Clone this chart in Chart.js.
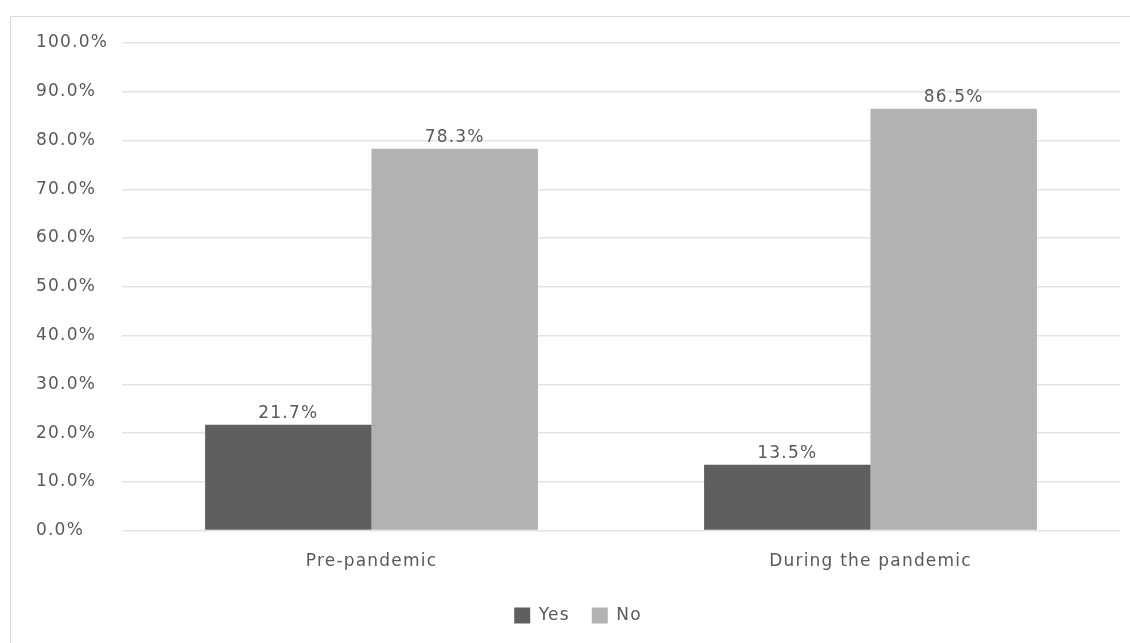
<!DOCTYPE html>
<html lang="en">
<head>
    <meta charset="UTF-8">
    <script src="https://cdn.jsdelivr.net/npm/chart.js@4.4.0/dist/chart.umd.min.js"></script>
    <title>Pre-pandemic vs during the pandemic</title>
    <style>
        body { margin: 0; background: #fff; overflow: hidden; }
        #wrap { position: relative; width: 1130px; height: 643px; overflow: hidden; }
        .line { position: absolute; background: #dcdcdc; }
        #top-line { left: 10px; top: 16px; width: 1120px; height: 1px; }
        #left-line { left: 10px; top: 16px; width: 1px; height: 627px; }
        #myChart { position: absolute; left: 0; top: 0; }
    </style>
</head>
<body>
    <div id="wrap">
        <div class="line" id="top-line"></div>
        <div class="line" id="left-line"></div>
        <canvas id="myChart" width="1130" height="643"></canvas>
    </div>

    <script>
        // data
        var categories = ['Pre-pandemic', 'During the pandemic'];
        var yesValues = [21.7, 13.5];
        var noValues = [78.3, 86.5];
        var seriesNames = ['Yes', 'No'];

        var textColor = '#595959';
        var spacing = '1.2px';

        // canvas resets its state on resize, so keep letter spacing set
        var spacingPlugin = {
            id: 'spacing',
            beforeUpdate: function(chart) { chart.ctx.letterSpacing = spacing; },
            beforeDraw: function(chart) { chart.ctx.letterSpacing = spacing; }
        };

        // value labels above every bar
        var valueLabels = {
            id: 'valueLabels',
            afterDatasetsDraw: function(chart) {
                var ctx = chart.ctx;
                ctx.save();
                ctx.letterSpacing = spacing;
                ctx.font = '17px "DejaVu Sans"';
                ctx.fillStyle = textColor;
                ctx.textAlign = 'center';
                ctx.textBaseline = 'bottom';
                chart.data.datasets.forEach(function(ds, i) {
                    chart.getDatasetMeta(i).data.forEach(function(bar, j) {
                        ctx.fillText(ds.data[j].toFixed(1) + '%', bar.x, bar.y - 3);
                    });
                });
                ctx.restore();
            }
        };

        Chart.defaults.font.family = '"DejaVu Sans"';
        Chart.defaults.font.size = 17;
        Chart.defaults.color = textColor;

        var ctx = document.getElementById('myChart').getContext('2d');
        var myChart = new Chart(ctx, {
            type: 'bar',
            data: {
                labels: categories,
                datasets: [{
                    label: seriesNames[0],
                    data: yesValues,
                    backgroundColor: '#5f5f5f'
                }, {
                    label: seriesNames[1],
                    data: noValues,
                    backgroundColor: '#b2b2b2'
                }]
            },
            options: {
                responsive: false,
                animation: false,
                layout: { padding: { left: 36, right: 10, top: 43, bottom: 9 } },
                datasets: {
                    bar: { categoryPercentage: 0.667, barPercentage: 1.0 }
                },
                scales: {
                    x: {
                        grid: { display: false },
                        border: { display: false },
                        ticks: { padding: 13 }
                    },
                    y: {
                        min: 0,
                        max: 100,
                        ticks: {
                            stepSize: 10,
                            crossAlign: 'far',
                            callback: function(v) { return v.toFixed(1) + '%'; }
                        },
                        grid: { color: '#e3e3e3', lineWidth: 1.5, drawTicks: false },
                        border: { display: false },
                        afterFit: function(scale) { scale.width = 86; }
                    }
                },
                plugins: {
                    legend: {
                        position: 'bottom',
                        labels: { boxWidth: 16, boxHeight: 16, padding: 22 }
                    },
                    tooltip: { enabled: false }
                }
            },
            plugins: [spacingPlugin, valueLabels]
        });
    </script>
</body>
</html>
